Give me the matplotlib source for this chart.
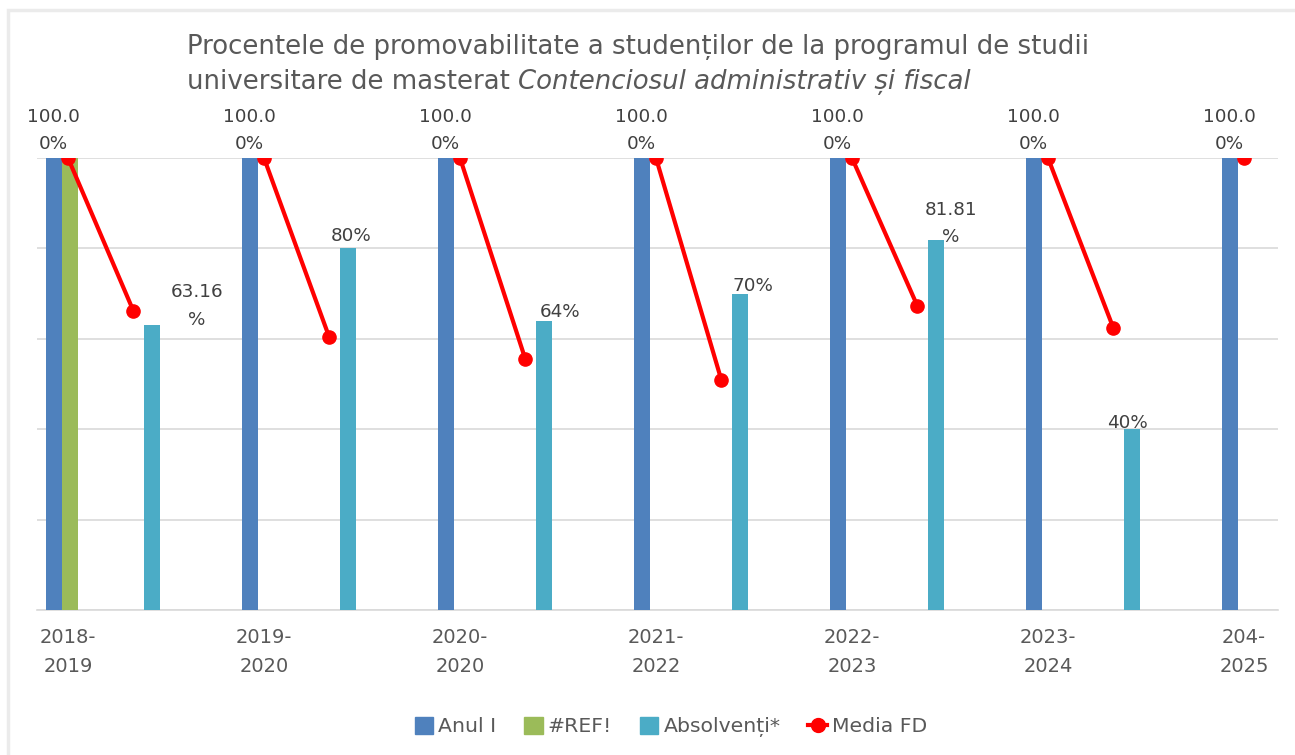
import numpy as np
import matplotlib
matplotlib.use("Agg")
import matplotlib.pyplot as plt
from matplotlib.patches import Rectangle, Patch
from matplotlib.lines import Line2D

plt.rcParams['font.family'] = ['DejaVu Sans']

# ---------------- data ----------------
categories = ["2018-\n2019", "2019-\n2020", "2020-\n2020", "2021-\n2022",
              "2022-\n2023", "2023-\n2024", "204-\n2025"]
anul_i = [100, 100, 100, 100, 100, 100, 100]
ref_err = [100, np.nan, np.nan, np.nan, np.nan, np.nan, np.nan]
absolventi = [63.16, 80, 64, 70, 81.81, 40, np.nan]
absolventi_labels = ["63.16%", "80%", "64%", "70%", "81.81%", "40%", ""]
anul_i_labels = ["100.00%"] * 7
# Media FD: plotted on a finer (3 points per category) axis, with gaps
media_fd = [100, 66.2, np.nan, 100, 60.3, np.nan, 100, 55.5, np.nan,
            100, 50.9, np.nan, 100, 67.3, np.nan, 100, 62.4, np.nan, 100]
series_names = ["Anul I", "#REF!", "Absolvenți*", "Media FD"]

# ---------------- style ----------------
C_BLUE = "#4F81BD"
C_GREEN = "#9BBB59"
C_TEAL = "#4BACC6"
C_RED = "#FF0000"
C_TEXT = "#595959"
C_GRID = "#D9D9D9"

W, H = 1295, 755
fig = plt.figure(figsize=(W / 100, H / 100), dpi=100)
fig.patch.set_facecolor("white")

# outer chart border (only top/left visible in reference)
fig.patches.append(Rectangle((8 / W, -0.1), 1.2, (H - 10) / H + 0.1,
                             transform=fig.transFigure, fill=False,
                             edgecolor="#EBEBEB", linewidth=2.5))

ax = fig.add_axes([37 / W, 1 - 610 / H, (1278 - 37) / W, (610 - 158) / H])

x = np.arange(len(categories))
bw = 0.082
slot = 1 / 12
off_anul = -0.0714
off_ref = off_anul + slot
off_abs = off_anul + 6 * slot

ax.bar(x + off_anul, anul_i, width=bw, color=C_BLUE, zorder=3)
ax.bar(x + off_ref, ref_err, width=bw, color=C_GREEN, zorder=3)
ax.bar(x + off_abs, absolventi, width=bw, color=C_TEAL, zorder=3)

xf = np.arange(len(media_fd)) / 3.0
ax.plot(xf, media_fd, color=C_RED, lw=3.0, marker="o", ms=9.5, zorder=5,
        solid_capstyle="round")

ax.set_xlim(-31 / 196, 1210 / 196)
ax.set_ylim(0, 100)
ax.set_yticks([0, 20, 40, 60, 80, 100])
ax.yaxis.grid(True, color=C_GRID, lw=1.2, zorder=0)
ax.tick_params(axis="y", left=False, labelleft=False)
for s in ["top", "right", "left"]:
    ax.spines[s].set_visible(False)
ax.spines["bottom"].set_color(C_GRID)
ax.spines["bottom"].set_linewidth(1.2)
ax.set_xticks(x)
ax.set_xticklabels(categories, fontsize=14, color=C_TEXT, linespacing=1.63)
ax.tick_params(axis="x", length=0, pad=13)
ax.set_facecolor("none")


def wrap(s, n=5):
    if len(s) <= 4:
        return s
    return s[:n] + "\n" + s[n:]


lab_fs = 13.2
for xi, v, lab in zip(x, anul_i, anul_i_labels):
    ax.annotate(wrap(lab), (xi + off_anul, v), xytext=(-1, 5),
                textcoords="offset pixels", ha="center", va="bottom",
                fontsize=lab_fs, color="#404040", linespacing=1.65,
                annotation_clip=False, zorder=6)

abs_offsets = [(45, -4), (3, 3), (16, 0), (13, -1), (15, -6), (-5, -3)]
for xi, v, lab, (dx, dy) in zip(x, absolventi, absolventi_labels, abs_offsets):
    if np.isnan(v):
        continue
    ax.annotate(wrap(lab), (xi + off_abs, v), xytext=(dx, dy),
                textcoords="offset pixels", ha="center", va="bottom",
                fontsize=lab_fs, color="#404040", linespacing=1.65,
                annotation_clip=False, zorder=6)

# ---------------- title ----------------
tfs = 18.7
t1 = fig.text(187 / W, 1 - 54 / H,
              "Procentele de promovabilitate a studenților de la programul de studii",
              fontsize=tfs, color=C_TEXT, ha="left", va="baseline")
t2 = fig.text(187 / W, 1 - 89 / H, "universitare de masterat ",
              fontsize=tfs, color=C_TEXT, ha="left", va="baseline")
r = fig.canvas.get_renderer()
bb = t2.get_window_extent(r)
fig.text(bb.x1 / W, 1 - 89 / H, "Contenciosul administrativ și fiscal",
         fontsize=tfs, color=C_TEXT, ha="left", va="baseline", style="italic")

# ---------------- legend ----------------
handles = [Patch(color=C_BLUE), Patch(color=C_GREEN), Patch(color=C_TEAL),
           Line2D([], [], color=C_RED, lw=3, marker="o", ms=10)]
fig.legend(handles, series_names, loc="center",
           bbox_to_anchor=(671 / W, 1 - 727 / H), ncol=4, frameon=False,
           fontsize=14.7, labelcolor=C_TEXT, handlelength=0.9, handleheight=0.9,
           handletextpad=0.25, columnspacing=1.37)

fig.savefig("out.png", dpi=100, facecolor="white")
